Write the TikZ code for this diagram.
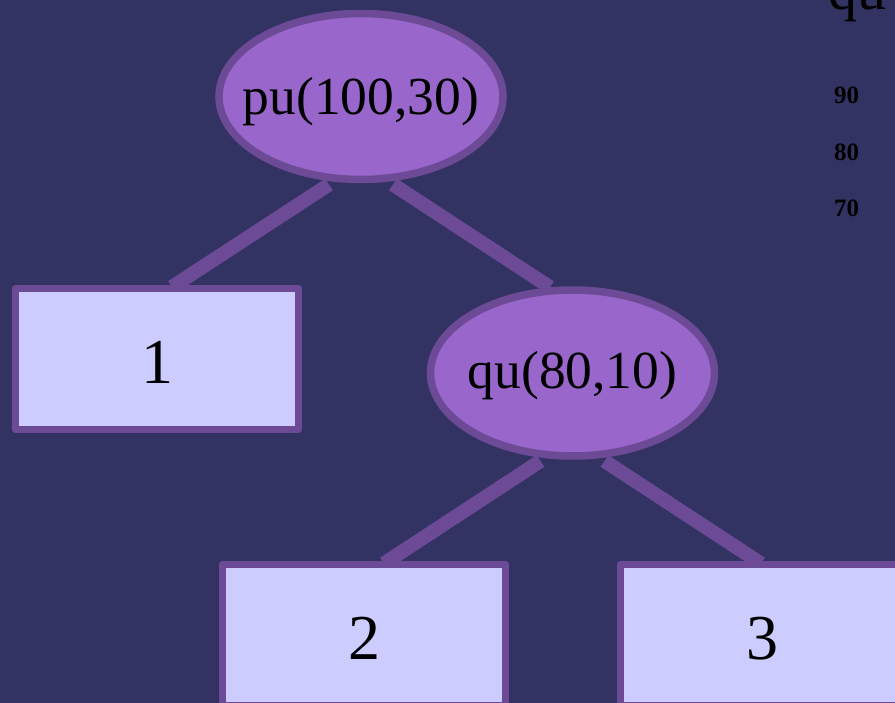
\documentclass[tikz,border=0pt]{standalone}
\usepackage{fontspec}
\setmainfont{Liberation Serif}
\usetikzlibrary{shapes.geometric,calc,backgrounds}

\definecolor{slatebg}{HTML}{333363}
\definecolor{nodeedge}{HTML}{6C4A96}
\definecolor{callfill}{HTML}{9966CC}
\definecolor{leaffill}{HTML}{CCCCFF}

% text placed with its baseline #1 below the node centre, taking no room
\newcommand\lowered[2]{\smash{\makebox[0pt]{\raisebox{-#1}{#2}}}}

\begin{document}
\begin{tikzpicture}[x=1pt,y=-1pt,
  callnode/.style={ellipse, draw=nodeedge, fill=callfill, line width=7.5pt,
    inner sep=0pt, minimum width=284pt, minimum height=166pt,
    font=\fontsize{53.5}{53.5}\selectfont},
  leafnode/.style={rectangle, draw=nodeedge, fill=leaffill, line width=7pt,
    line join=round, inner sep=0pt, minimum width=283.6pt, minimum height=141pt,
    font=\fontsize{64}{64}\selectfont},
  treeline/.style={draw=nodeedge, line width=14pt},
  sidetext/.style={anchor=base west, inner sep=0pt, text=black}]

\useasboundingbox (0,0) rectangle (895,703);

% tree nodes
\node[callnode] (pu) at (361,96.5) {\lowered{18pt}{pu(100,30)}};
\node[callnode] (qu) at (572.5,373) {\lowered{16pt}{qu(80,10)}};
\node[leafnode] (n1) at (157,359) {\lowered{25pt}{1}};
\node[leafnode] (n2) at (364,635) {\lowered{24pt}{2}};
\node[leafnode] (n3) at (762,635) {\lowered{24pt}{3}};

% heading fragment and value column on the right
\node[sidetext, font=\fontsize{58}{58}\selectfont] (head) at (828,10) {qu};
\node[sidetext, font=\bfseries\fontsize{25}{25}\selectfont] (v90) at (834,104) {90};
\node[sidetext, font=\bfseries\fontsize{25}{25}\selectfont] (v80) at (834,160.5) {80};
\node[sidetext, font=\bfseries\fontsize{25}{25}\selectfont] (v70) at (834,217) {70};

\begin{scope}[on background layer]
  \fill[slatebg] (0,0) rectangle (895,703);
  \path[treeline] ($(pu.center)+(-32,88)$) -- ($(n1.north)+(15,2)$);
  \path[treeline] ($(pu.center)+(32,88)$) -- ($(qu.north)+(-22.5,1)$);
  \path[treeline] ($(qu.center)+(-32,88)$) -- ($(n2.north)+(20,2.5)$);
  \path[treeline] ($(qu.center)+(32,88)$) -- ($(n3.north)+(-1,2.5)$);
\end{scope}
\end{tikzpicture}
\end{document}
